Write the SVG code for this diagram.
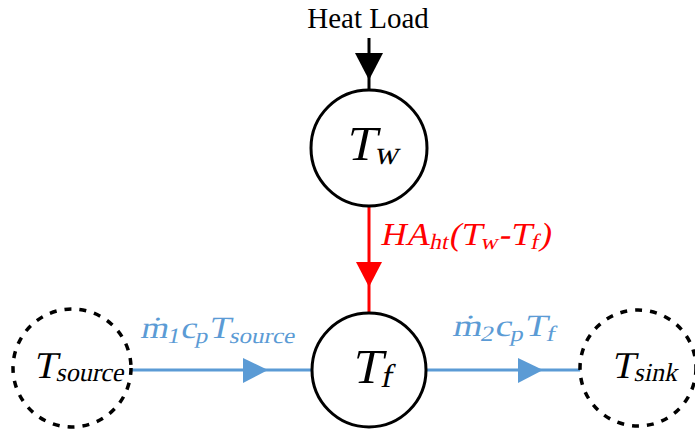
<svg xmlns="http://www.w3.org/2000/svg" width="695" height="434" viewBox="0 0 695 434">
<style>
.node{fill:#fff;stroke:#000;stroke-width:3}
.ext{fill:#fff;stroke:#000;stroke-width:3.5;stroke-dasharray:7 8}
text{font-family:"Liberation Serif","Times New Roman",serif}
.blue{fill:#5B9BD5}
.red{fill:#FF0000}
</style>
<rect width="695" height="434" fill="#fff"/>
<g id="connectors">
  <line x1="369" y1="38" x2="369" y2="90" stroke="#000" stroke-width="3"/>
  <polygon points="355,53 383,53 369,80" fill="#000"/>
  <line x1="369" y1="206" x2="369" y2="313" stroke="#FF0000" stroke-width="3"/>
  <polygon points="356,262 382,262 369,287" fill="#FF0000"/>
  <line x1="132" y1="370" x2="312" y2="370" stroke="#5B9BD5" stroke-width="3"/>
  <polygon points="243,358 243,383 268,370" fill="#5B9BD5"/>
  <line x1="426" y1="370" x2="583" y2="370" stroke="#5B9BD5" stroke-width="3"/>
  <polygon points="518,358 518,383 543,370" fill="#5B9BD5"/>
  <text x="368" y="28" text-anchor="middle" font-size="29">Heat Load</text>
  <text class="red" transform="translate(380,245) skewX(-12) scale(1.08,1)" font-size="32">HA<tspan font-size="22" dy="4">ht</tspan><tspan dy="-4">(T</tspan><tspan font-size="22" dy="4">w</tspan><tspan dy="-4">-T</tspan><tspan font-size="22" dy="4">f</tspan><tspan dy="-4">)</tspan></text>
  <text class="blue" transform="translate(140,338) skewX(-12) scale(1.14,1)" font-size="31">ṁ<tspan font-size="22" dy="5">1</tspan><tspan dy="-5">c</tspan><tspan font-size="22" dy="5">p</tspan><tspan dy="-5">T</tspan><tspan font-size="22" dy="5">source</tspan></text>
  <text class="blue" transform="translate(452,336) skewX(-12) scale(1.2,1)" font-size="31">ṁ<tspan font-size="22" dy="5">2</tspan><tspan dy="-5">c</tspan><tspan font-size="22" dy="5">p</tspan><tspan dy="-5">T</tspan><tspan font-size="22" dy="5">f</tspan></text>
</g>
<g id="Tw">
  <circle class="node" cx="369" cy="148" r="58"/>
  <text transform="translate(345,160) skewX(-12)" font-size="49">T<tspan font-size="33" dy="4">w</tspan></text>
</g>
<g id="Tf">
  <circle class="node" cx="369" cy="370" r="57"/>
  <text transform="translate(351,383) skewX(-12)" font-size="49">T<tspan font-size="33" dy="4">f</tspan></text>
</g>
<g id="Tsource">
  <circle class="ext" cx="72" cy="368" r="59"/>
  <text transform="translate(33,378) skewX(-12)" font-size="38">T<tspan font-size="26" dy="3">source</tspan></text>
</g>
<g id="Tsink">
  <circle class="ext" cx="638" cy="368" r="58"/>
  <text transform="translate(611,378) skewX(-12)" font-size="38">T<tspan font-size="26" dy="3">sink</tspan></text>
</g>
</svg>
